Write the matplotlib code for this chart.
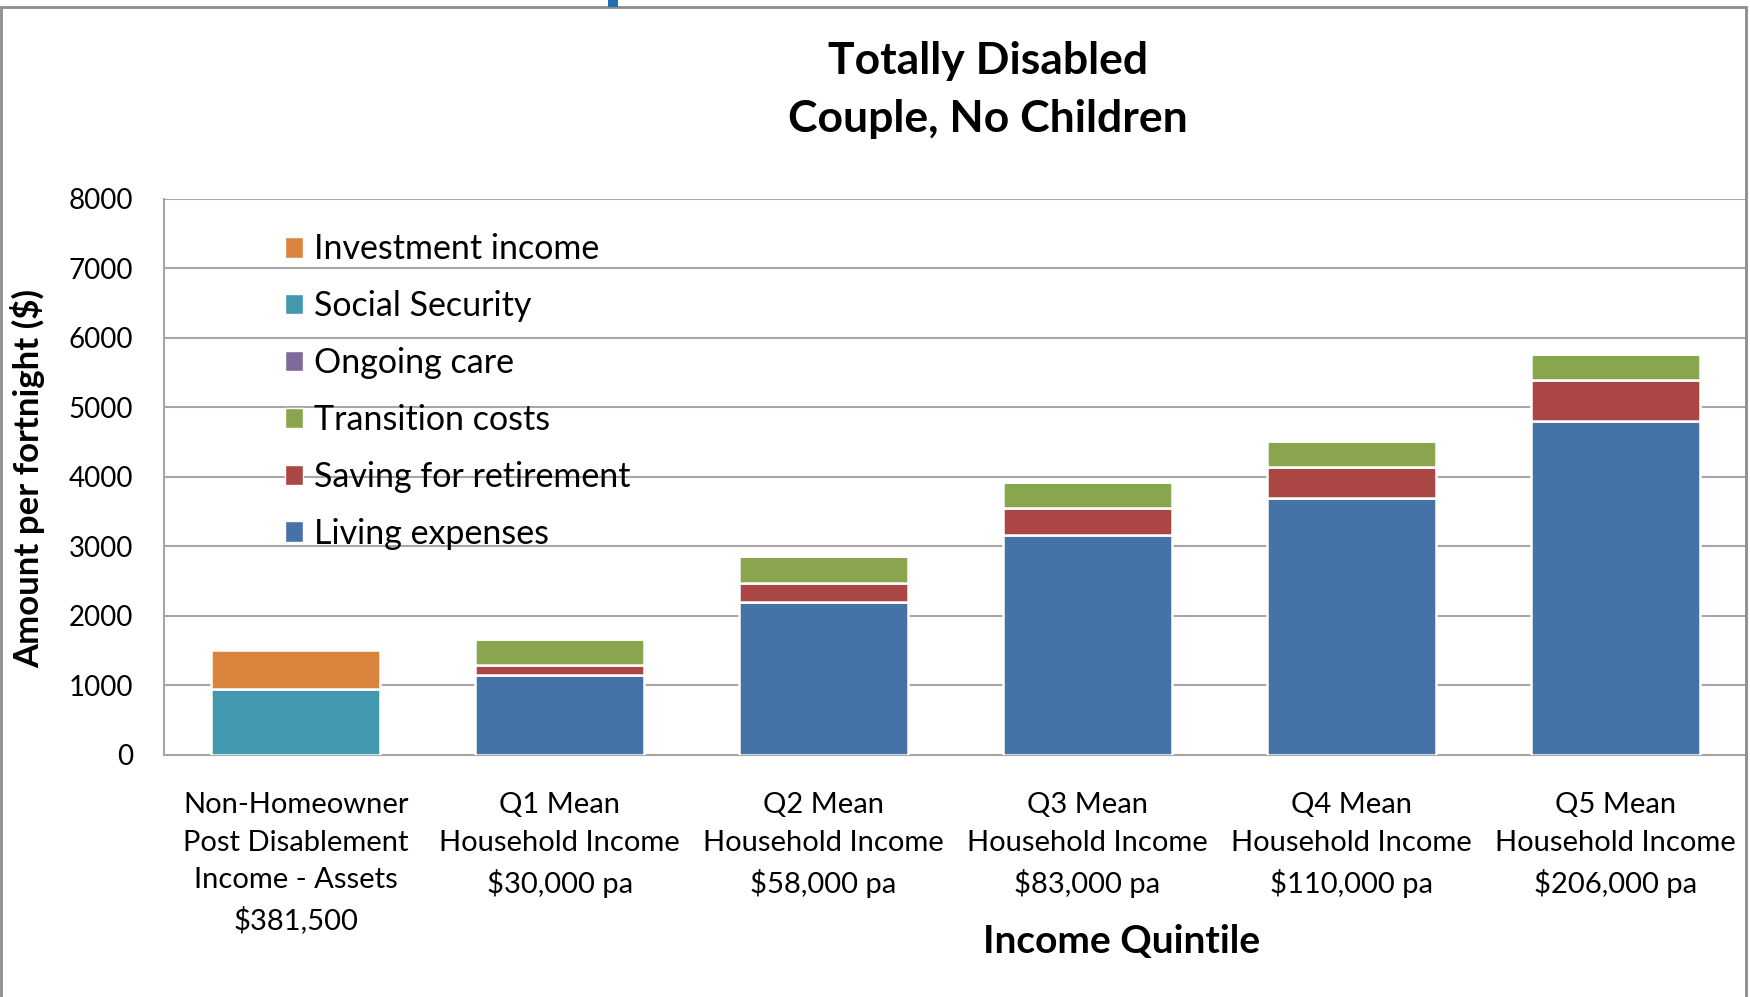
import matplotlib
matplotlib.use("Agg")
import matplotlib.pyplot as plt
from matplotlib.patches import Rectangle, Patch
import numpy as np

categories = [
    "Non-Homeowner\nPost Disablement\nIncome - Assets\n$381,500",
    "Q1 Mean\nHousehold Income\n$30,000 pa",
    "Q2 Mean\nHousehold Income\n$58,000 pa",
    "Q3 Mean\nHousehold Income\n$83,000 pa",
    "Q4 Mean\nHousehold Income\n$110,000 pa",
    "Q5 Mean\nHousehold Income\n$206,000 pa",
]
living_expenses = [0, 1140, 2200, 3160, 3690, 4800]
saving_for_retirement = [0, 150, 275, 390, 450, 595]
transition_costs = [0, 370, 385, 370, 380, 365]
ongoing_care = [0, 0, 0, 0, 0, 0]
social_security = [940, 0, 0, 0, 0, 0]
investment_income = [560, 0, 0, 0, 0, 0]

series = [
    ("Living expenses", living_expenses, "#4572A7"),
    ("Saving for retirement", saving_for_retirement, "#AA4643"),
    ("Transition costs", transition_costs, "#89A54E"),
    ("Ongoing care", ongoing_care, "#80699B"),
    ("Social Security", social_security, "#4198AF"),
    ("Investment income", investment_income, "#DB843D"),
]

font = "Lato"
plt.rcParams['font.family'] = [font, 'DejaVu Sans']

fig = plt.figure(figsize=(17.5, 9.97), dpi=100)
ax = fig.add_axes([164/1750, 1-754.6/997, (1747-164)/1750, (754.6-198.7)/997])

x = np.arange(len(categories))
bottom = np.zeros(len(categories))
handles = []
for name, vals, col in series:
    v = np.array(vals, dtype=float)
    ax.bar(x, v, bottom=bottom, width=0.64, color=col, edgecolor="white",
           linewidth=1.8, zorder=3)
    bottom += v
    handles.append(Patch(facecolor=col, edgecolor="white", label=name))

ax.set_xlim(-0.5, 5.5)
ax.set_ylim(0, 8000)
ax.set_yticks(np.arange(0, 8001, 1000))
ax.yaxis.grid(True, color="#a6a6a6", linewidth=1.5, zorder=0)
ax.set_axisbelow(True)
for s in ["top", "right"]:
    ax.spines[s].set_visible(False)
for s in ["left", "bottom"]:
    ax.spines[s].set_color("#a6a6a6")
    ax.spines[s].set_linewidth(1.5)
ax.set_xticks(x)
ax.set_xticklabels(categories, fontsize=21, linespacing=1.55)
ax.tick_params(axis="x", length=0, pad=27)
ax.tick_params(axis="y", length=0, pad=22, labelsize=20)

leg = ax.legend(handles=handles[::-1], loc="upper left",
                bbox_to_anchor=(0.0676, 0.962), frameon=False, fontsize=24.5,
                handlelength=0.55, handleheight=0.55, handletextpad=0.3,
                labelspacing=0.73, borderaxespad=0)

fig.text(988/1750, 1-61/997, "Totally Disabled", ha="center", va="center",
         fontsize=32, fontweight="bold")
fig.text(988/1750, 1-119/997, "Couple, No Children", ha="center", va="center",
         fontsize=32, fontweight="bold")
fig.text(28/1750, 1-478/997, "Amount per fortnight ($)", ha="center", va="center",
         rotation=90, fontsize=25, fontweight="bold")
fig.text(1122/1750, 1-941/997, "Income Quintile", ha="center", va="center",
         fontsize=28, fontweight="bold")

# chart border
fig.patches.append(Rectangle((0.0006, -0.01), 0.9974, 0.9935 + 0.01 - 0.0006,
                             transform=fig.transFigure, fill=False,
                             edgecolor="#8c8c8c", linewidth=2))
fig.patches.append(Rectangle((608/1750, 1-7/997), 10/1750, 7/997,
                             transform=fig.transFigure, facecolor="#1f6fb2",
                             edgecolor="none"))

fig.savefig("out.png", dpi=100, facecolor="white")
